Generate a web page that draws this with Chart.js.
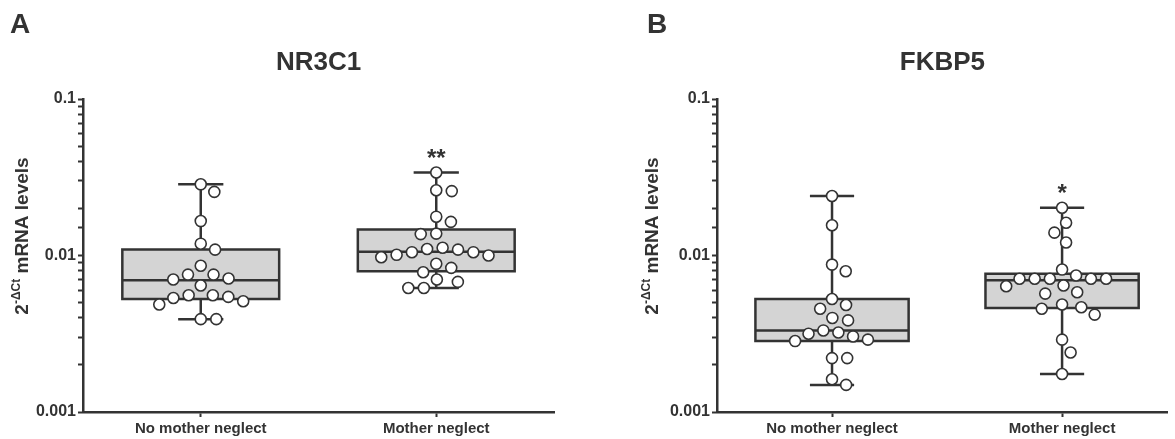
<!DOCTYPE html>
<html>
<head>
<meta charset="utf-8">
<script src="https://cdn.jsdelivr.net/npm/chart.js@4.4.1/dist/chart.umd.min.js"></script>
<style>
  body { margin: 0; background: #fff; }
  #wrap { position: relative; width: 1175px; height: 439px; }
  canvas { position: absolute; top: 0; }
</style>
</head>
<body>
<div id="wrap">
  <canvas id="chartA" width="587" height="439" style="left:0"></canvas>
  <canvas id="chartB" width="588" height="439" style="left:587px"></canvas>
</div>
<script>
const categories = ['No mother neglect', 'Mother neglect'];
const yTicks = [0.001, 0.01, 0.1];

// NR3C1 - 2^-dCt per subject
const nr3c1NoNeglect = [0.0285, 0.0255, 0.0166, 0.0119, 0.0109, 0.0086, 0.00755, 0.00755, 0.00713, 0.00702,
  0.00643, 0.00557, 0.00557, 0.00535, 0.00544, 0.0051, 0.00486, 0.00392, 0.00392];
const nr3c1Neglect = [0.0339, 0.0261, 0.0258, 0.0177, 0.0164, 0.0138, 0.0137, 0.0112, 0.0110, 0.0105, 0.00975,
  0.0100, 0.0101, 0.0105, 0.0109, 0.00885, 0.00834, 0.00782, 0.00678, 0.00702, 0.0062, 0.0062];
// [min, q1, median, q3, max]
const nr3c1NoNeglectBox = [0.00392, 0.00527, 0.00695, 0.01092, 0.0285];
const nr3c1NeglectBox = [0.0062, 0.00793, 0.01057, 0.01468, 0.0339];
const nr3c1Stars = ['', '**'];

// FKBP5
const fkbp5NoNeglect = [0.024, 0.0156, 0.00875, 0.00793, 0.00527, 0.00483, 0.00457, 0.00399, 0.00385, 0.00322,
  0.00332, 0.00304, 0.00316, 0.00284, 0.0029, 0.00221, 0.00221, 0.00162, 0.00149];
const fkbp5Neglect = [0.0202, 0.0162, 0.014, 0.0121, 0.00813, 0.0071, 0.0071, 0.0071, 0.0071, 0.0071, 0.00745,
  0.00643, 0.00636, 0.00582, 0.00571, 0.00467, 0.00486, 0.00419, 0.00457, 0.0029, 0.0024, 0.00175];
const fkbp5NoNeglectBox = [0.00149, 0.00284, 0.00332, 0.00527, 0.024];
const fkbp5NeglectBox = [0.00175, 0.00462, 0.00695, 0.00764, 0.0202];
const fkbp5Stars = ['', '*'];

const LINE = '#333333';
const TEXT = '#333333';
const BOX_FILL = '#d4d4d4';
const FONT = "'Liberation Sans', Arial, Helvetica, sans-serif";
const BOX_HALF = 0.333;
const CAP_HALF = 0.096;
// swarm spacing (px), used to spread points sideways like the prism dot plot
const SWARM_DIAM = 15.5;
const PX_PER_DECADE = 156;
const PX_PER_CAT = 235;

function swarmOffsets(values) {
  const order = values.map((v, i) => i).sort((a, b) => values[b] - values[a]);
  const placed = [];
  const offs = new Array(values.length).fill(0);
  for (const i of order) {
    const y = Math.log10(values[i]) * PX_PER_DECADE;
    const blocked = [];
    for (const p of placed) {
      const dy = Math.abs(p.y - y);
      if (dy < SWARM_DIAM) {
        const w = Math.sqrt(SWARM_DIAM * SWARM_DIAM - dy * dy);
        blocked.push([p.x - w, p.x + w]);
      }
    }
    const cands = [0];
    blocked.forEach(b => cands.push(b[0], b[1]));
    cands.sort((a, b) => Math.abs(a) - Math.abs(b) || b - a);
    const x = cands.find(c => blocked.every(b => c <= b[0] + 1e-6 || c >= b[1] - 1e-6));
    placed.push({ x: x, y: y });
    offs[i] = x / PX_PER_CAT;
  }
  return offs;
}

function lineSet(data, order, extra) {
  return Object.assign({
    type: 'line',
    data: data,
    borderColor: LINE,
    borderWidth: 2.5,
    pointRadius: 0,
    tension: 0,
    fill: false,
    clip: false,
    order: order
  }, extra || {});
}

function groupDatasets(center, values, box) {
  const [lo, q1, med, q3, hi] = box;
  const offs = swarmOffsets(values);
  return [
    {
      type: 'scatter',
      data: values.map((v, i) => ({ x: center + offs[i], y: v })),
      pointRadius: 5.5,
      pointBackgroundColor: '#ffffff',
      pointBorderColor: LINE,
      pointBorderWidth: 1.6,
      clip: false,
      order: 0
    },
    lineSet([{ x: center - BOX_HALF, y: med }, { x: center + BOX_HALF, y: med }], 1),
    lineSet([
      { x: center - BOX_HALF, y: q1 }, { x: center + BOX_HALF, y: q1 },
      { x: center + BOX_HALF, y: q3 }, { x: center - BOX_HALF, y: q3 },
      { x: center - BOX_HALF, y: q1 }
    ], 2, { fill: 'shape', backgroundColor: BOX_FILL, borderCapStyle: 'square', borderJoinStyle: 'miter' }),
    lineSet([
      { x: center - CAP_HALF, y: hi }, { x: center + CAP_HALF, y: hi },
      { x: center, y: null },
      { x: center - CAP_HALF, y: lo }, { x: center + CAP_HALF, y: lo }
    ], 3),
    lineSet([{ x: center, y: lo }, { x: center, y: hi }], 4)
  ];
}

const decorPlugin = {
  id: 'decor',
  afterDraw(chart, args, o) {
    const ctx = chart.ctx;
    const xs = chart.scales.x, ys = chart.scales.y;
    ctx.save();
    ctx.fillStyle = TEXT;
    // panel letter
    ctx.font = 'bold 28px ' + FONT;
    ctx.textAlign = 'left';
    ctx.textBaseline = 'alphabetic';
    ctx.fillText(o.letter, o.letterX, 33);
    // significance stars
    ctx.font = 'bold 24px ' + FONT;
    ctx.textAlign = 'center';
    o.stars.forEach((s, i) => {
      if (!s) return;
      ctx.fillText(s, xs.getPixelForValue(i + 0.5), ys.getPixelForValue(o.boxes[i][4]) - 7);
    });
    // y axis title with superscript
    const big = 'bold 19px ' + FONT, small = 'bold 12px ' + FONT;
    ctx.font = big; const w1 = ctx.measureText('2').width;
    const w3 = ctx.measureText(' mRNA levels').width;
    ctx.font = small; const w2 = ctx.measureText('-\u0394Ct').width;
    const total = w1 + w2 + w3;
    ctx.translate(o.titleX, 236);
    ctx.rotate(-Math.PI / 2);
    ctx.textAlign = 'left';
    let x = -total / 2;
    ctx.font = big; ctx.fillText('2', x, 0); x += w1;
    ctx.font = small; ctx.fillText('-\u0394Ct', x, -8); x += w2;
    ctx.font = big; ctx.fillText(' mRNA levels', x, 0);
    ctx.restore();
  }
};

function makeChart(id, cfg) {
  const datasets = []
    .concat(groupDatasets(0.5, cfg.groups[0], cfg.boxes[0]))
    .concat(groupDatasets(1.5, cfg.groups[1], cfg.boxes[1]));
  return new Chart(document.getElementById(id).getContext('2d'), {
    type: 'scatter',
    data: { datasets: datasets },
    plugins: [decorPlugin],
    options: {
      responsive: false,
      animation: false,
      events: [],
      layout: { padding: { top: 0, left: 0, bottom: 0, right: cfg.padRight } },
      plugins: {
        legend: { display: false },
        tooltip: { enabled: false },
        title: {
          display: true,
          text: cfg.title,
          fullSize: false,
          color: TEXT,
          font: { family: FONT, size: 26, weight: 'bold' },
          padding: { top: 47, bottom: 20.8 }
        },
        decor: { letter: cfg.letter, letterX: cfg.letterX, titleX: cfg.titleX, stars: cfg.stars, boxes: cfg.boxes }
      },
      scales: {
        x: {
          type: 'linear',
          min: 0,
          max: cfg.xMax,
          afterBuildTicks: s => { s.ticks = [{ value: 0.5 }, { value: 1.5 }]; },
          afterFit: s => { s.height = 27; },
          ticks: {
            autoSkip: false,
            maxRotation: 0,
            padding: 3,
            color: TEXT,
            font: { family: FONT, size: 15, weight: 'bold' },
            callback: v => categories[Math.round(v - 0.5)]
          },
          grid: { drawOnChartArea: false, drawTicks: true, tickLength: 5, tickWidth: 2, tickColor: LINE, color: LINE },
          border: { display: true, color: LINE, width: 2.5 }
        },
        y: {
          type: 'logarithmic',
          min: 0.001,
          max: 0.1,
          afterFit: s => { s.width = cfg.yWidth; },
          ticks: {
            autoSkip: false,
            padding: 2,
            color: TEXT,
            font: { family: FONT, size: 16, weight: 'bold' },
            callback: v => {
              const t = yTicks.find(t => Math.abs(t - v) / t < 1e-6);
              return t === undefined ? '' : String(t);
            }
          },
          grid: { drawOnChartArea: false, drawTicks: true, tickLength: 5, tickWidth: 2, tickColor: LINE, color: LINE },
          border: { display: true, color: LINE, width: 2.5 }
        }
      }
    }
  });
}

makeChart('chartA', {
  title: 'NR3C1', letter: 'A', letterX: 10, titleX: 28, yWidth: 83, padRight: 33, xMax: 2,
  groups: [nr3c1NoNeglect, nr3c1Neglect], boxes: [nr3c1NoNeglectBox, nr3c1NeglectBox], stars: nr3c1Stars
});
makeChart('chartB', {
  title: 'FKBP5', letter: 'B', letterX: 60, titleX: 71, yWidth: 130, padRight: 0, xMax: 1.96,
  groups: [fkbp5NoNeglect, fkbp5Neglect], boxes: [fkbp5NoNeglectBox, fkbp5NeglectBox], stars: fkbp5Stars
});
</script>
</body>
</html>
